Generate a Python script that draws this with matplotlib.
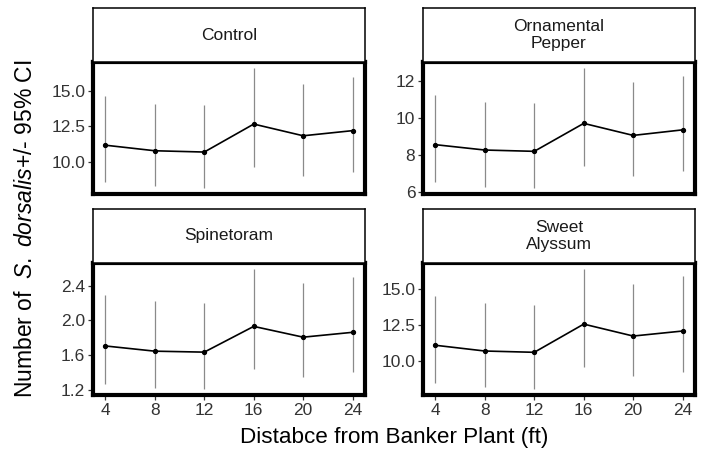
import matplotlib
matplotlib.use("Agg")
import matplotlib.pyplot as plt

plt.rcParams['font.family'] = ['Liberation Sans', 'DejaVu Sans']
plt.rcParams['mathtext.fontset'] = 'custom'
plt.rcParams['mathtext.rm'] = 'Liberation Sans'
plt.rcParams['mathtext.it'] = 'Liberation Sans:italic'

# distance from banker plant (ft)
distance = [4, 8, 12, 16, 20, 24]

# treatment panels, in facet order
panels = ['Control', 'Ornamental\nPepper', 'Spinetoram', 'Sweet\nAlyssum']

control_mean = [11.18, 10.79, 10.70, 12.66, 11.84, 12.20]
control_lo = [8.57, 8.30, 8.18, 9.66, 9.05, 9.32]
control_hi = [14.66, 14.09, 14.02, 16.59, 15.46, 15.98]

pepper_mean = [8.54, 8.25, 8.18, 9.69, 9.04, 9.34]
pepper_lo = [6.50, 6.25, 6.20, 7.38, 6.86, 7.11]
pepper_hi = [11.23, 10.85, 10.79, 12.68, 11.90, 12.25]

spinetoram_mean = [1.705, 1.645, 1.634, 1.93, 1.806, 1.862]
spinetoram_lo = [1.267, 1.222, 1.21, 1.436, 1.343, 1.40]
spinetoram_hi = [2.29, 2.22, 2.198, 2.59, 2.43, 2.494]

alyssum_mean = [11.12, 10.72, 10.63, 12.59, 11.76, 12.11]
alyssum_lo = [8.49, 8.20, 8.08, 9.59, 8.99, 9.26]
alyssum_hi = [14.55, 14.05, 13.94, 16.42, 15.36, 15.90]

y_ticks = [[10.0, 12.5, 15.0], [6, 8, 10, 12], [1.2, 1.6, 2.0, 2.4], [10.0, 12.5, 15.0]]
y_fmt = ['{:.1f}', '{:.0f}', '{:.1f}', '{:.1f}']

series = [(control_mean, control_lo, control_hi),
          (pepper_mean, pepper_lo, pepper_hi),
          (spinetoram_mean, spinetoram_lo, spinetoram_hi),
          (alyssum_mean, alyssum_lo, alyssum_hi)]

W, H = 704, 453
fig = plt.figure(figsize=(W / 100, H / 100), dpi=100)

# pixel boxes (left, top) of each panel; strip sits above
col_x = [93, 423]
row_top = [62, 263]
pw, ph, sh = 272, 132, 54

for k in range(4):
    r, c = divmod(k, 2)
    x0 = col_x[c]
    y0 = row_top[r]
    ax = fig.add_axes([x0 / W, 1 - (y0 + ph) / H, pw / W, ph / H])
    st = fig.add_axes([x0 / W, 1 - y0 / H, pw / W, sh / H])

    # strip
    st.set_xticks([])
    st.set_yticks([])
    for s in st.spines.values():
        s.set_linewidth(1.1)
    st.text(0.5, 0.5, panels[k], ha='center', va='center', fontsize=12.5,
            color='#1a1a1a', linespacing=1.1, transform=st.transAxes)

    m, lo, hi = series[k]
    ax.vlines(distance, lo, hi, color='#8a8a8a', lw=0.9, zorder=1)
    ax.plot(distance, m, color='black', lw=1.2, marker='o', ms=2.8, zorder=2)

    allv = lo + hi
    span = max(allv) - min(allv)
    ax.set_ylim(min(allv) - 0.05 * span, max(allv) + 0.05 * span)
    ax.set_xlim(3, 25)
    ax.set_yticks(y_ticks[k])
    ax.set_yticklabels([y_fmt[k].format(v) for v in y_ticks[k]])
    ax.set_xticks(distance)
    for s in ax.spines.values():
        s.set_linewidth(3.0)
    ax.tick_params(axis='both', labelsize=12.5, labelcolor='#333333',
                   color='#333333', width=0.9, length=3.5, pad=2)
    if r == 0:
        ax.tick_params(axis='x', labelbottom=False, length=0)

fig.text(394 / W, 1 - 438 / H, 'Distabce from Banker Plant (ft)',
         ha='center', va='center', fontsize=16.2)
fig.text(26 / W, 1 - 229 / H, r'Number of  $\mathit{S.\ dorsalis}$+/- 95% CI',
         ha='center', va='center', rotation=90, fontsize=16.5)

fig.savefig('out.png', dpi=100)
